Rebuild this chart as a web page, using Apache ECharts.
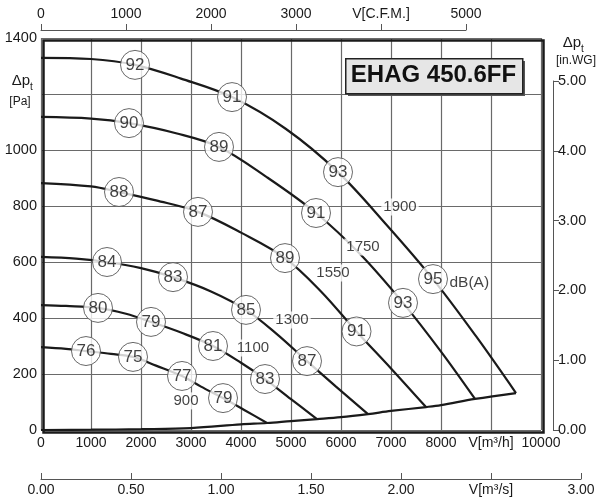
<!DOCTYPE html>
<html><head><meta charset="utf-8">
<script src="https://cdn.jsdelivr.net/npm/echarts@6/dist/echarts.min.js"></script>
<style>html,body{margin:0;padding:0;background:#fff}#c{width:600px;height:500px}</style>
</head><body><div id="c"></div>
<script>
const FONT = '"Liberation Sans", Arial, Helvetica, sans-serif';

// Tick labels
const flowLabels = ['0','1000','2000','3000','4000','5000','6000','7000','8000','V[m³/h]','10000'];
const cfmLabels = ['0','1000','2000','3000','V[C.F.M.]','5000'];
const m3sLabels = ['0.00','0.50','1.00','1.50','2.00','V[m³/s]','3.00'];
const paLabels = ['0','200','400','600','800','1000','','1400'];
const inwgLabels = ['0.00','1.00','2.00','3.00','4.00','5.00'];

// Fan curves [V m3/h, dp Pa]
const curve1900 = [[0,1329],[1000,1325],[1880,1304],[2800,1255],[3820,1189],[4900,1075],[5940,921],[6900,735],[7840,539],[8700,335],[9500,132]];
const curve1750 = [[0,1118],[1000,1112],[1760,1096],[2700,1060],[3560,1011],[4500,905],[5500,775],[6400,625],[7240,454],[8000,280],[8680,111]];
const curve1550 = [[0,882],[1000,870],[1560,850],[2300,820],[3140,779],[4000,705],[4880,614],[5600,495],[6310,352],[7000,220],[7700,82]];
const curve1300 = [[0,618],[700,612],[1320,600],[2000,578],[2640,546],[3400,495],[4100,429],[4700,345],[5320,246],[5900,155],[6540,57]];
const curve1100 = [[0,446],[500,443],[1140,436],[1700,415],[2200,386],[2800,348],[3440,300],[4000,240],[4480,182],[5000,110],[5520,39]];
const curve900  = [[0,296],[500,290],[900,282],[1400,272],[1840,261],[2300,230],[2820,193],[3200,155],[3640,114],[4100,68],[4520,25]];
const boundary  = [[0,0],[1000,1],[2000,3],[3000,7],[4000,20],[4520,25],[5000,32],[5520,39],[6000,46],[6540,57],[7000,68],[7700,82],[8000,89],[8680,111],[9500,132]];

// Sound levels dB(A) on curves [V, dp, dB]
const noise1900 = [[1880,1304,92],[3820,1189,91],[5940,921,93],[7840,539,95]];
const noise1750 = [[1760,1096,90],[3560,1011,89],[5500,775,91],[7240,454,93]];
const noise1550 = [[1560,850,88],[3140,779,87],[4880,614,89],[6310,352,91]];
const noise1300 = [[1320,600,84],[2640,546,83],[4100,429,85],[5320,246,87]];
const noise1100 = [[1140,436,80],[2200,386,79],[3440,300,81],[4480,182,83]];
const noise900  = [[900,282,76],[1840,261,75],[2820,193,77],[3640,114,79]];

// Speed labels [V, dp, rpm]
const speedLabels = [[7180,796,'1900'],[6440,654,'1750'],[5840,561,'1550'],[5020,393,'1300'],[4240,293,'1100'],[2900,104,'900']];
const unitLabel = [[8160,525,'dB(A)']];

const TXT = '#1a1a1a';
const GRIDC = '#6a6a6a';

function curveSeries(d){
  return {type:'line', xAxisIndex:0, yAxisIndex:0, data:d, smooth:0.35, symbol:'none', showSymbol:false, silent:true,
    lineStyle:{color:'#1a1a1a', width:2.2}, z:3};
}
const noiseAll = [].concat(noise1900, noise1750, noise1550, noise1300, noise1100, noise900);

const option = {
  animation:false,
  backgroundColor:'#fff',
  textStyle:{fontFamily:FONT},
  grid:[
    {left:41, top:38, width:500, height:392},
    {left:41, top:29, width:425, height:1},
    {left:41, top:478, width:540, height:1},
    {left:552, top:81, width:1, height:349}
  ],
  xAxis:[
    {gridIndex:0, type:'value', min:0, max:10000, interval:1000, position:'bottom',
      axisLine:{show:false}, axisTick:{show:false},
      axisLabel:{show:true, margin:6, fontSize:14, color:TXT, fontFamily:FONT, formatter:v=>flowLabels[Math.round(v/1000)]},
      splitLine:{show:true, lineStyle:{color:GRIDC, width:1.2, opacity:1}}},
    {gridIndex:1, type:'value', position:'top', min:0, max:5000, interval:1000,
      axisLine:{show:true, lineStyle:{color:'#555', width:1}}, axisTick:{show:true, inside:false, length:6, lineStyle:{color:'#555'}},
      axisLabel:{margin:8, fontSize:14, color:TXT, fontFamily:FONT, formatter:v=>cfmLabels[Math.round(v/1000)]},
      splitLine:{show:false}},
    {gridIndex:2, type:'value', position:'bottom', min:0, max:3, interval:0.5,
      axisLine:{show:true, lineStyle:{color:'#555', width:1}}, axisTick:{show:true, inside:true, length:6, lineStyle:{color:'#555'}},
      axisLabel:{margin:4, fontSize:14, color:TXT, fontFamily:FONT, formatter:v=>m3sLabels[Math.round(v/0.5)]},
      splitLine:{show:false}},
    {gridIndex:3, type:'value', show:false, min:0, max:1}
  ],
  yAxis:[
    {gridIndex:0, type:'value', min:0, max:1400, interval:200, position:'left',
      axisLine:{show:false}, axisTick:{show:false},
      axisLabel:{show:true, margin:4, fontSize:14.5, color:TXT, fontFamily:FONT, formatter:v=>paLabels[Math.round(v/200)]},
      splitLine:{show:true, lineStyle:{color:GRIDC, width:1.2, opacity:1}}},
    {gridIndex:1, type:'value', show:false, min:0, max:1},
    {gridIndex:2, type:'value', show:false, min:0, max:1},
    {gridIndex:3, type:'value', position:'right', min:0, max:5, interval:1,
      axisLine:{show:true, onZero:false, lineStyle:{color:'#555', width:1}}, axisTick:{show:true, inside:false, length:6, lineStyle:{color:'#555'}},
      axisLabel:{margin:5, fontSize:14.5, color:TXT, fontFamily:FONT, formatter:v=>inwgLabels[Math.round(v)]},
      splitLine:{show:false}}
  ],
  series:[
    curveSeries(curve1900), curveSeries(curve1750), curveSeries(curve1550),
    curveSeries(curve1300), curveSeries(curve1100), curveSeries(curve900),
    curveSeries(boundary),
    {type:'scatter', xAxisIndex:0, yAxisIndex:0, data:noiseAll, symbol:'circle', symbolSize:29, silent:true, z:5,
      itemStyle:{color:'#fff', borderColor:'#444', borderWidth:1},
      label:{show:true, position:'inside', formatter:p=>String(p.data[2]), fontSize:17, color:'#111', fontFamily:FONT}},
    {type:'scatter', xAxisIndex:0, yAxisIndex:0, data:speedLabels, symbol:'circle', symbolSize:1, silent:true, z:6,
      itemStyle:{color:'rgba(0,0,0,0)'},
      label:{show:true, position:'inside', formatter:p=>p.data[2], fontSize:15, color:'#111', fontFamily:FONT, backgroundColor:'#fff', padding:[1,2]}},
    {type:'scatter', xAxisIndex:0, yAxisIndex:0, data:unitLabel, symbol:'circle', symbolSize:1, silent:true, z:6,
      itemStyle:{color:'rgba(0,0,0,0)'},
      label:{show:true, position:'right', distance:0, formatter:p=>p.data[2], fontSize:15.5, color:'#111', fontFamily:FONT}}
  ],
  graphic:[
    {type:'rect', left:41, top:38, shape:{width:500, height:392}, style:{fill:'none', stroke:'#1a1a1a', lineWidth:2.5}, z:20, silent:true},
    {type:'rect', left:348, top:61, shape:{width:177, height:35}, style:{fill:'#555'}, z:10},
    {type:'rect', left:345, top:58, shape:{width:177, height:35}, style:{fill:'#e6e6e6', stroke:'#222', lineWidth:1.5}, z:11},
    {type:'text', x:433.5, y:75.5, style:{text:'EHAG 450.6FF', font:'bold 24px '+FONT, fill:'#111', align:'center', verticalAlign:'middle'}, z:12},
    {type:'text', x:21, y:81, style:{text:'Δp', font:'15px '+FONT, fill:TXT, align:'center', verticalAlign:'middle'}},
    {type:'text', x:30, y:87, style:{text:'t', font:'10px '+FONT, fill:TXT, align:'left', verticalAlign:'middle'}},
    {type:'text', x:20, y:102, style:{text:'[Pa]', font:'12px '+FONT, fill:TXT, align:'center', verticalAlign:'middle'}},
    {type:'text', x:572, y:43, style:{text:'Δp', font:'15px '+FONT, fill:TXT, align:'center', verticalAlign:'middle'}},
    {type:'text', x:581, y:49, style:{text:'t', font:'10px '+FONT, fill:TXT, align:'left', verticalAlign:'middle'}},
    {type:'text', x:576, y:61, style:{text:'[in.WG]', font:'12px '+FONT, fill:TXT, align:'center', verticalAlign:'middle'}}
  ]
};
const chart = echarts.init(document.getElementById('c'), null, {renderer:'canvas'});
chart.setOption(option);
</script>
</body></html>
